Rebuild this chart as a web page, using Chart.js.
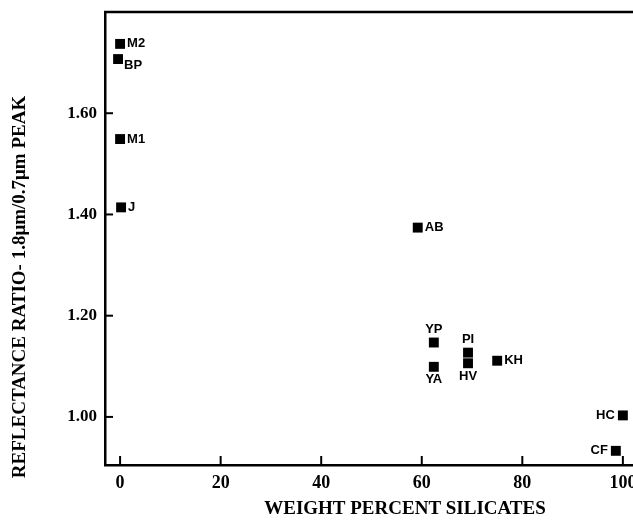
<!DOCTYPE html>
<html>
<head>
<meta charset="utf-8">
<script src="https://cdn.jsdelivr.net/npm/chart.js@4.4.1/dist/chart.umd.min.js"></script>
<style>
  html, body { margin: 0; padding: 0; background: #fff; overflow: hidden; }
  #wrap { width: 633px; height: 521px; overflow: hidden; }
</style>
</head>
<body>
<div id="wrap"><canvas id="myChart" width="660" height="521"></canvas></div>
<script>
// sample names and values
const samples = ['M2', 'BP', 'M1', 'J', 'AB', 'YP', 'YA', 'PI', 'HV', 'KH', 'HC', 'CF'];
const silicates = [0, -0.4, 0, 0.2, 59.2, 62.4, 62.4, 69.2, 69.2, 75, 100, 98.6];
const ratios = [1.737, 1.707, 1.549, 1.414, 1.374, 1.147, 1.099, 1.127, 1.106, 1.111, 1.003, 0.933];
const xTicks = [0, 20, 40, 60, 80, 100];
const yTicks = [1.00, 1.20, 1.40, 1.60];

const xTitle = 'WEIGHT PERCENT SILICATES';
const yTitle = 'REFLECTANCE RATIO- 1.8\u03BCm/0.7\u03BCm PEAK';

// where each label sits next to its marker
const placement = {
    M2: 'r', BP: 'rs', M1: 'r', J: 'r', AB: 'r', KH: 'r',
    YP: 'a', PI: 'a', YA: 'b', HV: 'b', HC: 'l', CF: 'l'
};

const points = silicates.map((x, i) => ({ x: x, y: ratios[i] }));

const frame = {
    id: 'frame',
    afterDraw(chart) {
        const ctx = chart.ctx;
        const a = chart.chartArea;
        const xs = chart.scales.x, ys = chart.scales.y;
        ctx.save();
        ctx.strokeStyle = '#000';
        ctx.lineWidth = 2.5;
        // top line runs off the edge
        ctx.beginPath();
        ctx.moveTo(a.left - 1, a.top);
        ctx.lineTo(chart.width, a.top);
        ctx.stroke();
        // inward ticks
        ctx.lineWidth = 2;
        xTicks.forEach(v => {
            const px = xs.getPixelForValue(v);
            ctx.beginPath();
            ctx.moveTo(px, a.bottom);
            ctx.lineTo(px, a.bottom - 9);
            ctx.stroke();
        });
        yTicks.forEach(v => {
            const py = ys.getPixelForValue(v);
            ctx.beginPath();
            ctx.moveTo(a.left, py);
            ctx.lineTo(a.left + 8, py);
            ctx.stroke();
        });
        // axis titles
        ctx.fillStyle = '#000';
        ctx.font = 'bold 19px "Liberation Serif"';
        ctx.textAlign = 'center';
        ctx.textBaseline = 'middle';
        ctx.fillText(xTitle, 405, 509);
        ctx.translate(20, 287);
        ctx.rotate(-Math.PI / 2);
        ctx.font = 'bold 19px "Liberation Serif"';
        ctx.fillText(yTitle, 0, 0);
        ctx.restore();
    }
};

const pointLabels = {
    id: 'pointLabels',
    afterDatasetsDraw(chart) {
        const ctx = chart.ctx;
        const meta = chart.getDatasetMeta(0);
        ctx.save();
        ctx.fillStyle = '#000';
        ctx.font = 'bold 13px "Liberation Sans"';
        meta.data.forEach((el, i) => {
            const name = samples[i];
            const p = placement[name];
            let x = el.x, y = el.y;
            ctx.textBaseline = 'middle';
            if (p === 'r') { ctx.textAlign = 'left'; x += 7; }
            else if (p === 'rs') { ctx.textAlign = 'left'; x += 6; y += 6; }
            else if (p === 'a') { ctx.textAlign = 'center'; y -= 13; }
            else if (p === 'b') { ctx.textAlign = 'center'; y += 13; }
            else { ctx.textAlign = 'right'; x -= 8; }
            ctx.fillText(name, x, y);
        });
        ctx.restore();
    }
};

const config = {
    type: 'scatter',
    data: {
        datasets: [{
            data: points,
            pointStyle: 'rect',
            pointRadius: 7,
            pointHoverRadius: 7,
            pointBorderWidth: 0,
            backgroundColor: '#000',
            borderColor: '#000'
        }]
    },
    options: {
        responsive: false,
        animation: false,
        layout: { padding: { left: 0, top: 12, right: 15, bottom: 0 } },
        plugins: {
            legend: { display: false },
            tooltip: { enabled: false }
        },
        scales: {
            x: {
                type: 'linear',
                min: -3,
                max: 104.4,
                afterBuildTicks: s => { s.ticks = xTicks.map(v => ({ value: v })); },
                afterFit: s => { s.height = 56; s.paddingLeft = 0; s.paddingRight = 0; },
                border: { display: true, width: 2.5, color: '#000' },
                grid: { display: true, drawOnChartArea: false, drawTicks: false },
                ticks: {
                    padding: 8,
                    color: '#000',
                    maxRotation: 0,
                    font: { family: 'Liberation Serif', weight: 'bold', size: 18 },
                    callback: v => v
                }
            },
            y: {
                type: 'linear',
                min: 0.905,
                max: 1.80,
                afterBuildTicks: s => { s.ticks = yTicks.map(v => ({ value: v })); },
                afterFit: s => { s.width = 105; s.paddingTop = 0; s.paddingBottom = 0; },
                border: { display: true, width: 2.5, color: '#000' },
                grid: { display: true, drawOnChartArea: false, drawTicks: false },
                ticks: {
                    padding: 8,
                    color: '#000',
                    font: { family: 'Liberation Serif', weight: 'bold', size: 17 },
                    callback: v => v.toFixed(2)
                }
            }
        }
    },
    plugins: [frame, pointLabels]
};

const ctx = document.getElementById('myChart').getContext('2d');
new Chart(ctx, config);
</script>
</body>
</html>
